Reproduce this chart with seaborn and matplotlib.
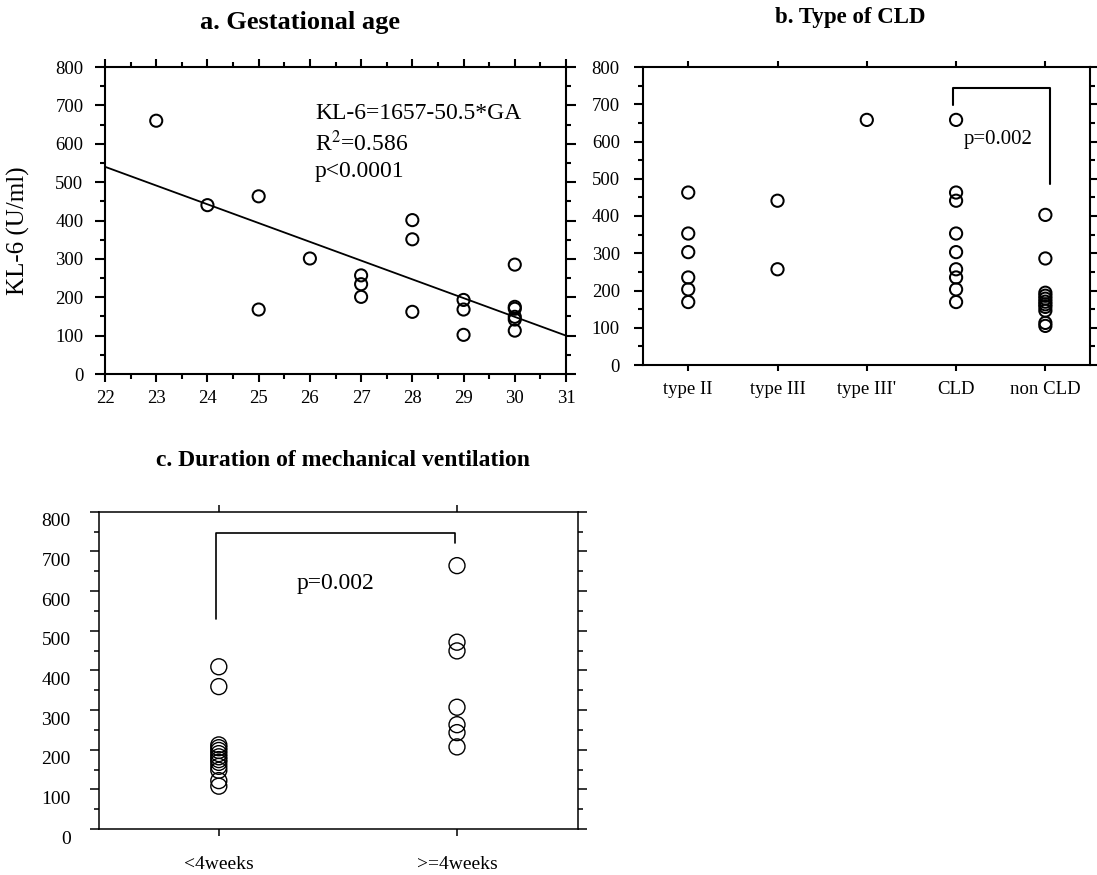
import pandas as pd
import seaborn as sns
import matplotlib.pyplot as plt
from matplotlib.ticker import MultipleLocator
from matplotlib.transforms import ScaledTranslation

# a. gestational age vs KL-6
ga = [23, 24, 25, 25, 26, 27, 27, 27, 28, 28, 28, 29, 29, 29, 30, 30, 30, 30, 30, 30]
kl6 = [660, 440, 463, 168, 301, 257, 234, 201, 401, 351, 162, 193, 168, 102,
       285, 175, 170, 149, 142, 113]
fit_ga = [22, 31]
fit_kl6 = [540, 100]

# b. type of CLD
cld_types = ["type II", "type III", "type III'", "CLD", "non CLD"]
type2 = [463, 353, 303, 235, 203, 169]
type3 = [441, 257]
type3p = [658]
cld = [658, 463, 441, 353, 303, 257, 235, 203, 169]
non_cld = [403, 286, 194, 186, 178, 170, 163, 156, 146, 113, 105]

# c. duration of mechanical ventilation
vent_groups = ["<4weeks", ">=4weeks"]
under4 = [409, 359, 212, 205, 198, 190, 182, 175, 168, 158, 148, 122, 108]
over4 = [664, 471, 449, 307, 263, 243, 207]

df_b = pd.DataFrame({
    "group": sum([[g] * len(v) for g, v in zip(cld_types, [type2, type3, type3p, cld, non_cld])], []),
    "kl6": type2 + type3 + type3p + cld + non_cld,
})
df_c = pd.DataFrame({
    "group": [vent_groups[0]] * len(under4) + [vent_groups[1]] * len(over4),
    "kl6": under4 + over4,
})

sns.set_style("ticks")
plt.rcParams["font.family"] = ["Liberation Serif", "DejaVu Serif"]
plt.rcParams["mathtext.fontset"] = "stix"
plt.rcParams["text.color"] = "black"
plt.rcParams["axes.labelcolor"] = "black"

W, H = 1097, 875
fig = plt.figure(figsize=(W / 100, H / 100), dpi=100)
ax_a = fig.add_axes([105 / W, 1 - 374 / H, 461 / W, 307 / H])
ax_b = fig.add_axes([642.7 / W, 1 - 365 / H, 447.3 / W, 298 / H])
ax_c = fig.add_axes([99 / W, 1 - 829 / H, 479 / W, 317.3 / H])


def style_axis(ax, lw, xlen, ylen, minor_len, xpad, ypad, size):
    for sp in ax.spines.values():
        sp.set_visible(True)
        sp.set_linewidth(lw)
        sp.set_color("black")
    ax.tick_params(which="both", direction="out", top=True, right=True,
                   labeltop=False, labelright=False, width=lw, color="black",
                   labelcolor="black", labelsize=size)
    ax.tick_params(axis="x", which="major", length=xlen, pad=xpad)
    ax.tick_params(axis="y", which="major", length=ylen, pad=ypad)
    ax.tick_params(which="minor", length=minor_len)
    ax.set_xlabel("")
    ax.set_ylabel("")
    ax.set_ylim(0, 800)
    ax.set_yticks(range(0, 801, 100))
    ax.yaxis.set_minor_locator(MultipleLocator(50))


# panel a
sns.scatterplot(x=ga, y=kl6, ax=ax_a, s=76, facecolor="none", edgecolor="black",
                linewidth=1.45, zorder=3)
sns.lineplot(x=fit_ga, y=fit_kl6, ax=ax_a, color="black", linewidth=1.3)
ax_a.set_xlim(22, 31)
ax_a.set_xticks(range(22, 32))
ax_a.xaxis.set_minor_locator(MultipleLocator(0.5))
style_axis(ax_a, 1.5, 6, 7, 3.3, 5.5, 8.5, 13.5)
ax_a.text(26.1, 680, "KL-6=1657-50.5*GA", fontsize=17, va="center")
ax_a.text(26.1, 600, "R$^{2}$=0.586", fontsize=17, va="center")
ax_a.text(26.1, 527, "p<0.0001", fontsize=17, va="center")
fig.text(18.5 / W, 1 - 231 / H, "KL-6 (U/ml)", rotation=90, fontsize=18,
         ha="center", va="center")

# panel b
sns.stripplot(data=df_b, x="group", y="kl6", order=cld_types, jitter=False, ax=ax_b,
              size=8.8, facecolor="none", edgecolor="black", linewidth=1.45)
ax_b.set_xlim(-0.51, 4.5)
style_axis(ax_b, 1.5, 4, 6.5, 3.3, 7.5, 10, 13.5)
ax_b.plot([2.97, 2.97, 4.05, 4.05], [698, 743, 743, 485], color="black", linewidth=1.5)
ax_b.text(3.08, 606, "p=0.002", fontsize=15, va="center")

# panel c
sns.stripplot(data=df_c, x="group", y="kl6", order=vent_groups, jitter=False, ax=ax_c,
              size=11.5, facecolor="none", edgecolor="black", linewidth=1.0)
ax_c.set_xlim(-0.503, 1.508)
style_axis(ax_c, 1.1, 5, 6.5, 3.6, 14.5, 14, 14)
ax_c.plot([-0.013, -0.013, 0.993, 0.993], [529, 747, 747, 722], color="black", linewidth=1.2)
ax_c.text(0.325, 619, "p=0.002", fontsize=17, va="center")
shift = ScaledTranslation(0, -0.08, fig.dpi_scale_trans)
for lab in ax_c.get_yticklabels():
    lab.set_transform(lab.get_transform() + shift)

# titles
fig.text(300 / W, 1 - 22 / H, "a. Gestational age", fontsize=19, fontweight="bold",
         ha="center", va="center")
fig.text(850 / W, 1 - 18 / H, "b. Type of CLD", fontsize=16.5, fontweight="bold",
         ha="center", va="center")
fig.text(343 / W, 1 - 461 / H, "c. Duration of mechanical ventilation", fontsize=17,
         fontweight="bold", ha="center", va="center")

fig.savefig("out.png", dpi=100)
